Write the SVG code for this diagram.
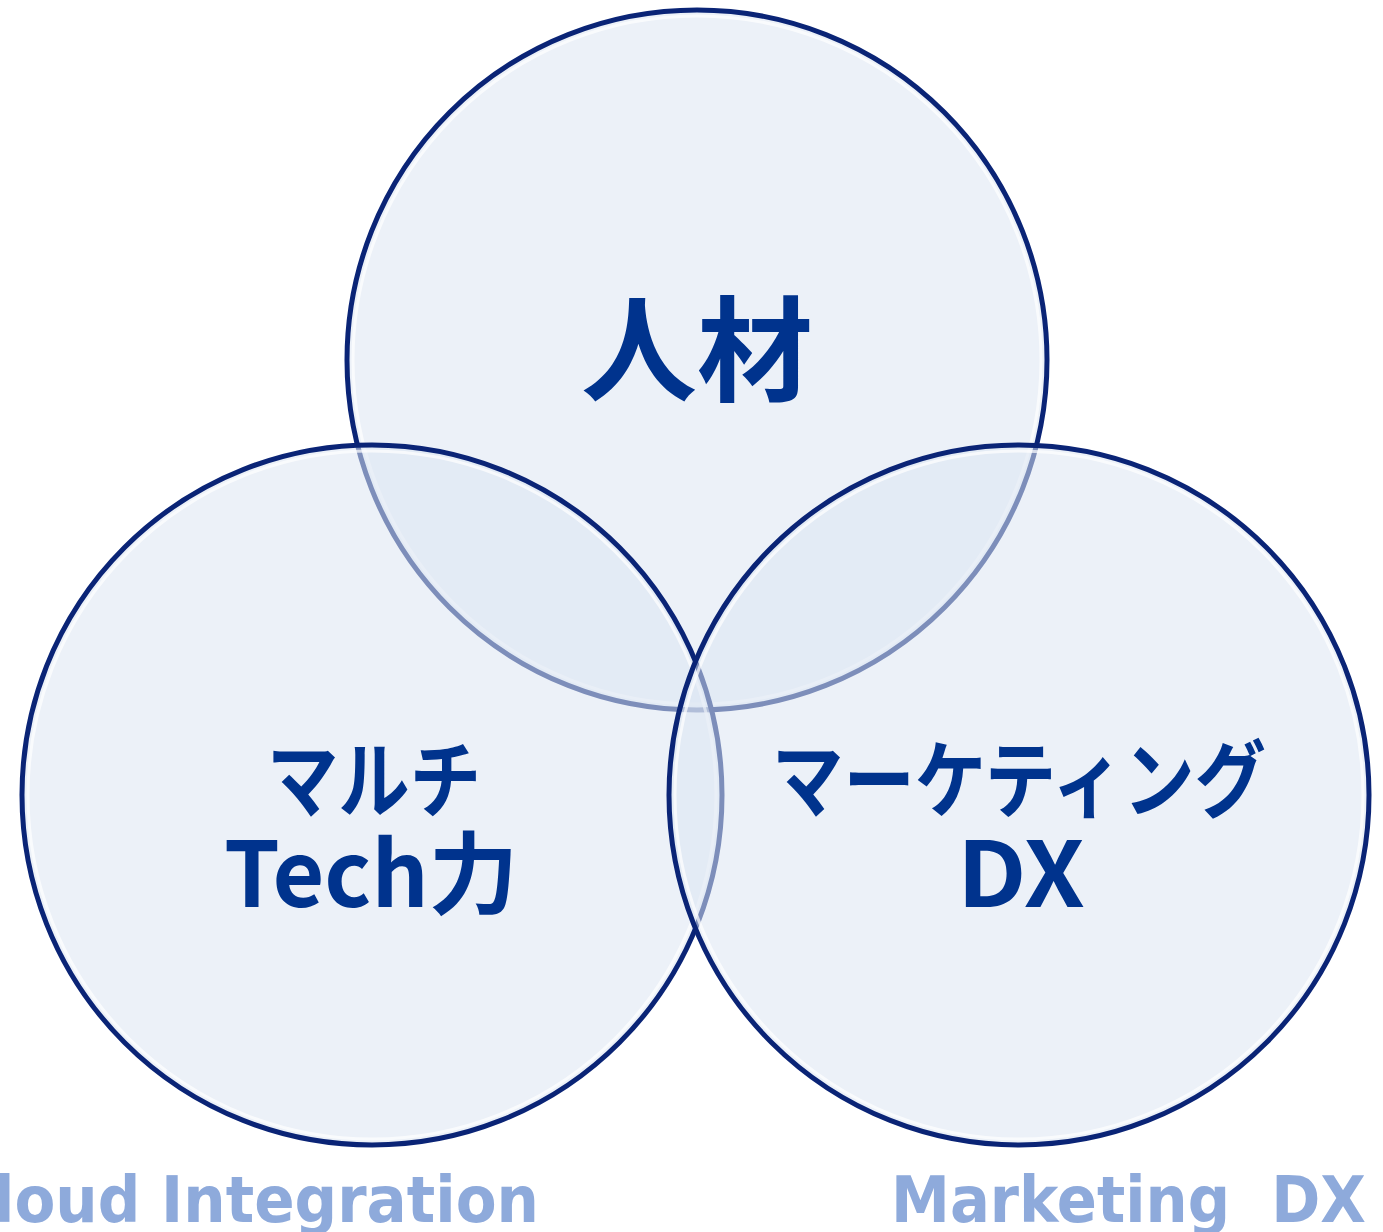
<svg xmlns="http://www.w3.org/2000/svg" width="1383" height="1232" viewBox="0 0 1383 1232">
<style>
.c{fill:#dce6f2;fill-opacity:0.55;stroke:#0a2476;stroke-width:5}
.hl{fill:none;stroke:#ffffff;stroke-width:3;stroke-opacity:0.7}
.t{font-family:"Noto Sans CJK JP","Noto Sans",sans-serif;font-weight:bold;fill:#00338d;text-anchor:middle}
.b{font-family:"DejaVu Sans","Noto Sans",sans-serif;font-weight:bold;fill:#8eaadb}
</style>
<rect width="1383" height="1232" fill="#ffffff"/>
<g id="node-jinzai">
<circle class="c" cx="697" cy="360" r="350"/>
<circle class="hl" cx="697" cy="360" r="344"/>
</g>
<g id="node-multitech">
<circle class="c" cx="372" cy="795" r="350"/>
<circle class="hl" cx="372" cy="795" r="344"/>
</g>
<g id="node-marketing">
<circle class="c" cx="1019" cy="795" r="350"/>
<circle class="hl" cx="1019" cy="795" r="344"/>
</g>
<g id="labels">
<text class="t" x="697" y="392" font-size="114" textLength="232" lengthAdjust="spacingAndGlyphs">人材</text>
<text class="t" x="374" y="811" font-size="84" textLength="214" lengthAdjust="spacingAndGlyphs">マルチ</text>
<text class="t" x="371" y="907" font-size="90" textLength="294" lengthAdjust="spacingAndGlyphs">Tech力</text>
<text class="t" x="1019" y="811" font-size="84" textLength="494" lengthAdjust="spacingAndGlyphs">マーケティング</text>
<text class="t" x="1021" y="907" font-size="90" textLength="128" lengthAdjust="spacingAndGlyphs">DX</text>
</g>
<g id="connectors"/>
<g id="captions">
<text class="b" x="-6" y="1222" font-size="64" textLength="545" lengthAdjust="spacingAndGlyphs">loud Integration</text>
<text class="b" x="891" y="1222" font-size="64" textLength="475" lengthAdjust="spacingAndGlyphs" xml:space="preserve">Marketing  DX</text>
</g>
</svg>
